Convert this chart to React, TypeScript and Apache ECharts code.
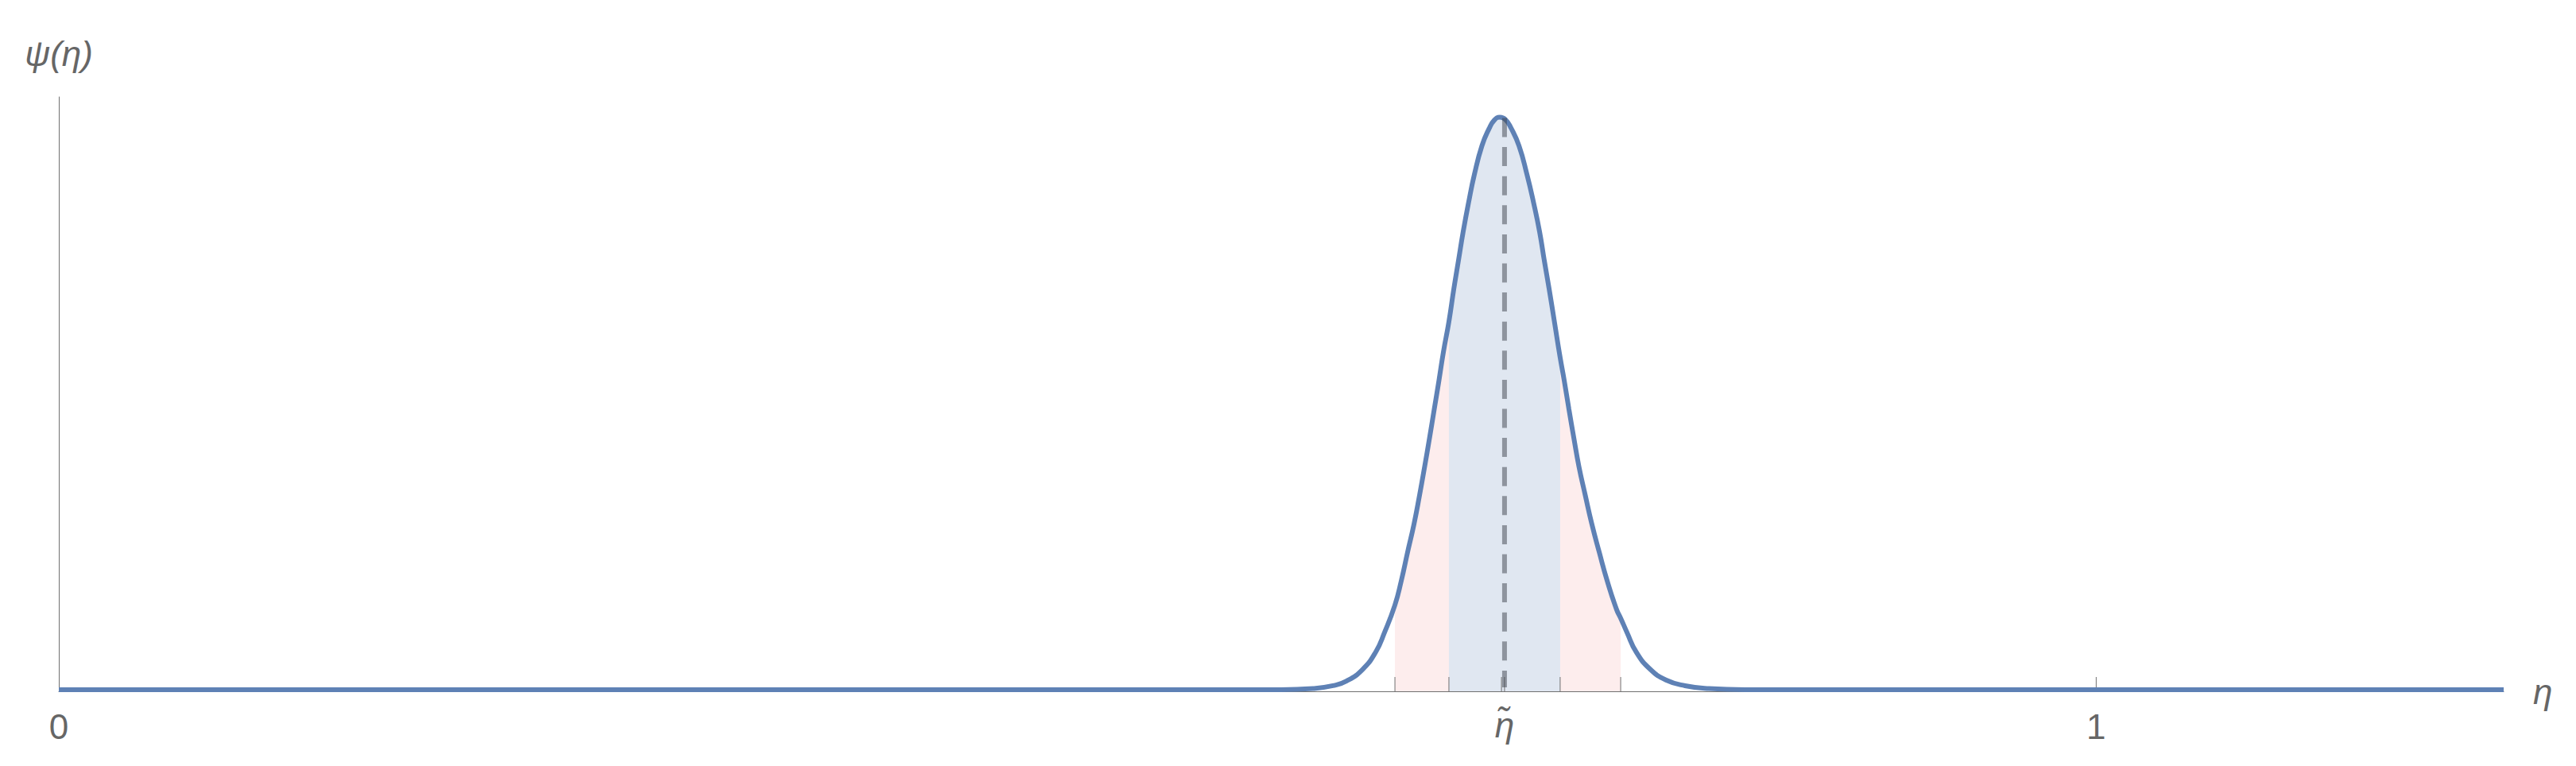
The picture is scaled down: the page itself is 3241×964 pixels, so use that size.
import React, { useEffect, useRef } from "react";
import * as echarts from "echarts";

// Curve ψ(η) (peak normalised to 1)
const ETA = [
  0, 0.6, 0.6156, 0.6254, 0.632, 0.6398, 0.6464, 0.6507, 0.6558, 0.6589,
  0.662, 0.6652, 0.6679, 0.6704, 0.6728, 0.6751, 0.6774, 0.6796, 0.6823, 0.6847,
  0.687, 0.6893, 0.6919, 0.6948, 0.6985, 0.702, 0.7046, 0.7073, 0.71, 0.7128,
  0.7167, 0.7206, 0.7239, 0.7268, 0.7291, 0.7315, 0.7342, 0.7369, 0.7389, 0.7412,
  0.7436, 0.7461, 0.7492, 0.7524, 0.7561, 0.76, 0.7646, 0.7666, 0.7697, 0.7742,
  0.781, 0.7888, 0.7982, 0.8099, 0.8275, 1.2,
];
const PSI = [
  0, 0, 0.002, 0.007, 0.015, 0.035, 0.066, 0.1, 0.148, 0.19,
  0.24, 0.29, 0.34, 0.39, 0.44, 0.49, 0.54, 0.59, 0.643, 0.7,
  0.75, 0.8, 0.85, 0.9, 0.95, 0.98, 0.995, 1.0, 0.996, 0.981,
  0.95, 0.9, 0.85, 0.8, 0.75, 0.7, 0.64, 0.58, 0.54, 0.49,
  0.44, 0.39, 0.34, 0.29, 0.24, 0.19, 0.14, 0.125, 0.1, 0.066,
  0.036, 0.017, 0.007, 0.002, 0, 0,
];

const ETA_TILDE = 0.7096;
const DASH_TOP = 0.9986;
const DASH_BOTTOM = 0.004;
const PINK_RANGE = [0.6558, 0.7666];
const BLUE_RANGE = [0.6823, 0.7369];
const EXTRA_TICKS = [0.6558, 0.6823, 0.7081, 0.7096, 0.7369, 0.7666, 1];
const AXIS_LABELS: Record<string, string> = { "0": "0", "1": "1" };
const TILDE_LABEL = "η\u0303";

const X_MIN = 0;
const X_MAX = 1.2;
const Y_MIN = -0.0028;
const Y_MAX = 1.0354;

const FONT = '"Liberation Sans", Arial, sans-serif';
const TEXT_COLOR = "#666666";
const AXIS_COLOR = "#707070";
const SMOOTH = 0.5;

export default function App() {
  const ref = useRef<HTMLDivElement>(null);

  useEffect(() => {
    if (!ref.current) return;
    const chart = echarts.init(ref.current, null, { renderer: "svg" });

    const curve = ETA.map((e, i) => [e, PSI[i]]);
    const inRange = (r: number[]) => curve.filter((p) => p[0] >= r[0] - 1e-9 && p[0] <= r[1] + 1e-9);

    const option: any = {
      animation: false,
      backgroundColor: "#ffffff",
      grid: { left: 74, right: 91, top: 122, bottom: 94 },
      xAxis: {
        type: "value",
        min: X_MIN,
        max: X_MAX,
        interval: 1,
        name: "η",
        nameLocation: "end",
        nameGap: 37,
        nameTextStyle: {
          fontSize: 44,
          fontStyle: "italic",
          fontFamily: FONT,
          color: TEXT_COLOR,
          align: "left",
          verticalAlign: "middle",
        },
        axisLine: { show: true, onZero: false, lineStyle: { color: AXIS_COLOR, width: 1 } },
        axisTick: { show: false },
        splitLine: { show: false },
        axisLabel: {
          show: true,
          fontSize: 44,
          fontFamily: FONT,
          color: TEXT_COLOR,
          margin: 44,
          verticalAlign: "middle",
          formatter: (v: number) => AXIS_LABELS[String(v)] ?? "",
        },
      },
      yAxis: {
        type: "value",
        min: Y_MIN,
        max: Y_MAX,
        name: "ψ(η)",
        nameLocation: "end",
        nameGap: 55,
        nameTextStyle: {
          fontSize: 44,
          fontStyle: "italic",
          fontFamily: FONT,
          color: TEXT_COLOR,
          align: "center",
          verticalAlign: "middle",
        },
        axisLine: { show: true, onZero: false, lineStyle: { color: AXIS_COLOR, width: 1 } },
        axisTick: { show: false },
        axisLabel: { show: false },
        splitLine: { show: false },
      },
      series: [
        {
          type: "line",
          data: inRange(PINK_RANGE),
          smooth: SMOOTH,
          showSymbol: false,
          lineStyle: { width: 0 },
          areaStyle: { color: "#FDEDED", opacity: 1, origin: "start" },
          z: 1,
          silent: true,
        },
        {
          type: "line",
          data: inRange(BLUE_RANGE),
          smooth: SMOOTH,
          showSymbol: false,
          lineStyle: { width: 0 },
          areaStyle: { color: "#E0E7F1", opacity: 1, origin: "start" },
          z: 2,
          silent: true,
        },
        {
          type: "custom",
          data: EXTRA_TICKS.map((t) => [t]),
          z: 3,
          silent: true,
          renderItem: (_p: any, api: any) => {
            const p = api.coord([api.value(0), Y_MIN]);
            return {
              type: "line",
              shape: { x1: p[0], y1: p[1], x2: p[0], y2: p[1] - 18 },
              style: { stroke: AXIS_COLOR, lineWidth: 1 },
            };
          },
        },
        {
          type: "line",
          data: curve,
          smooth: SMOOTH,
          showSymbol: false,
          lineStyle: { width: 6, color: "#5E81B5" },
          z: 4,
          silent: true,
        },
        {
          type: "line",
          data: [
            [ETA_TILDE, DASH_TOP],
            [ETA_TILDE, DASH_BOTTOM],
          ],
          showSymbol: false,
          lineStyle: { width: 6, color: "rgba(60,66,76,0.5)", type: [24, 12.6], cap: "butt" },
          z: 5,
          silent: true,
        },
        {
          type: "custom",
          data: [[ETA_TILDE]],
          z: 6,
          silent: true,
          renderItem: (_p: any, api: any) => {
            const p = api.coord([api.value(0), Y_MIN]);
            return {
              type: "text",
              x: p[0],
              y: p[1] + 42,
              style: {
                text: TILDE_LABEL,
                fontSize: 44,
                fontStyle: "italic",
                fontFamily: FONT,
                fill: TEXT_COLOR,
                align: "center",
                verticalAlign: "middle",
              },
            };
          },
        },
      ],
    };

    chart.setOption(option);
    return () => chart.dispose();
  }, []);

  return (
    <div
      ref={ref}
      style={{ position: "fixed", left: 0, top: 0, width: 3241, height: 964, background: "#fff" }}
    />
  );
}
